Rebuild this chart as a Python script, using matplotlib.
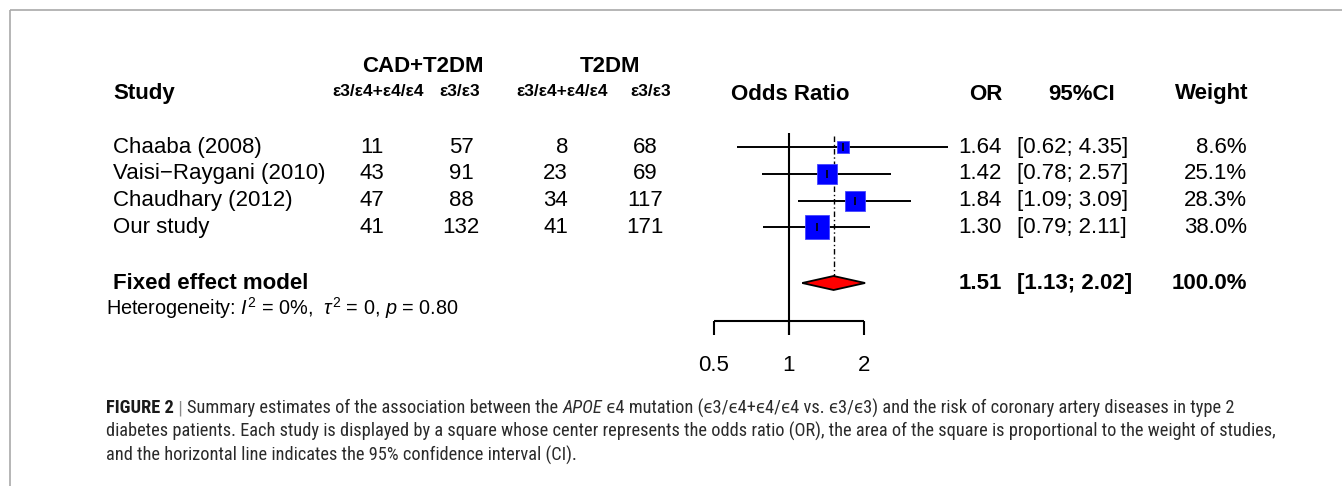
import matplotlib
matplotlib.use("Agg")
import matplotlib.pyplot as plt
from matplotlib import font_manager
import numpy as np

# ---------------- data ----------------
studies = ["Chaaba (2008)", "Vaisi\u2212Raygani (2010)", "Chaudhary (2012)", "Our study"]
cad_e4 = [11, 43, 47, 41]
cad_e3 = [57, 91, 88, 132]
t2dm_e4 = [8, 23, 34, 41]
t2dm_e3 = [68, 69, 117, 171]
odds = [1.64, 1.42, 1.84, 1.30]
ci_low = [0.62, 0.78, 1.09, 0.79]
ci_high = [4.35, 2.57, 3.09, 2.11]
weights = [8.6, 25.1, 28.3, 38.0]
fixed_or = 1.51
fixed_low = 1.13
fixed_high = 2.02
fixed_weight = 100.0
het_i2 = 0
het_tau2 = 0
het_p = 0.80
axis_ticks = [0.5, 1, 2]

caption_lines = [
    [("FIGURE 2", "bold"), (" | ", "sep"),
     ("Summary estimates of the association between the ", "normal"),
     ("APOE", "italic"),
     (" \u03f54 mutation (\u03f53/\u03f54+\u03f54/\u03f54 vs. \u03f53/\u03f53) and the risk of coronary artery diseases in type 2", "normal")],
    [("diabetes patients. Each study is displayed by a square whose center represents the odds ratio (OR), the area of the square is proportional to the weight of studies,", "normal")],
    [("and the horizontal line indicates the 95% confidence interval (CI).", "normal")],
]

# ---------------- style ----------------
plt.rcParams["font.family"] = ["Liberation Sans", "DejaVu Sans"]
plt.rcParams["mathtext.fontset"] = "custom"
plt.rcParams["mathtext.rm"] = "Liberation Sans"
plt.rcParams["mathtext.it"] = "Liberation Sans:italic"
plt.rcParams["mathtext.bf"] = "Liberation Sans:bold"

W, H = 1342, 486
FS = 16
SUB_FS = 12.5

fig = plt.figure(figsize=(W / 100, H / 100), dpi=100)
fig.patch.set_facecolor("white")
bg = fig.add_axes([0, 0, 1, 1])
bg.set_xlim(0, W)
bg.set_ylim(H, 0)
bg.axis("off")

# frame lines
bg.plot([9.5, W], [10.5, 10.5], color="#a9a9a9", lw=1.2, solid_capstyle="butt")
bg.plot([9.5, 9.5], [10.5, H], color="#a9a9a9", lw=1.2, solid_capstyle="butt")

# ---------------- layout ----------------
ROW0, ROWSTEP = 147.0, 26.8
row_y = [ROW0 + ROWSTEP * i for i in range(len(studies))]
FIX_Y = 283
HDR_Y = 94
GRP_Y = 67
SUB_Y = 92

X_STUDY = 113
COL1_R, COL2_C, COL3_R, COL4_C = 384, 461, 568, 645
SUB_C = [378, 460, 562, 651]
X_OR_R, X_CI_L, X_W_R = 1002, 1017, 1247

# headers
bg.text(X_STUDY, HDR_Y, "Study", fontsize=FS, fontweight="bold", ha="left", va="center")
bg.text(423, GRP_Y, "CAD+T2DM", fontsize=FS, fontweight="bold", ha="center", va="center")
bg.text(610, GRP_Y, "T2DM", fontsize=FS, fontweight="bold", ha="center", va="center")
sub_labels = ["\u03b53/\u03b54+\u03b54/\u03b54", "\u03b53/\u03b53", "\u03b53/\u03b54+\u03b54/\u03b54", "\u03b53/\u03b53"]
for xc, lab in zip(SUB_C, sub_labels):
    bg.text(xc, SUB_Y, lab, fontsize=SUB_FS, fontweight="bold", ha="center", va="center")
bg.text(790, HDR_Y, "Odds Ratio", fontsize=FS, fontweight="bold", ha="center", va="center")
bg.text(X_OR_R, HDR_Y, "OR", fontsize=FS, fontweight="bold", ha="right", va="center")
bg.text(1082, HDR_Y, "95%CI", fontsize=FS, fontweight="bold", ha="center", va="center")
bg.text(1248, HDR_Y, "Weight", fontsize=FS, fontweight="bold", ha="right", va="center")

# study rows
for i, y in enumerate(row_y):
    bg.text(X_STUDY, y, studies[i], fontsize=FS, ha="left", va="center")
    bg.text(COL1_R, y, str(cad_e4[i]), fontsize=FS, ha="right", va="center")
    bg.text(COL2_C, y, str(cad_e3[i]), fontsize=FS, ha="center", va="center")
    bg.text(COL3_R, y, str(t2dm_e4[i]), fontsize=FS, ha="right", va="center")
    bg.text(COL4_C, y, str(t2dm_e3[i]), fontsize=FS, ha="center", va="center")
    bg.text(X_OR_R, y, f"{odds[i]:.2f}", fontsize=FS, ha="right", va="center")
    bg.text(X_CI_L, y, f"[{ci_low[i]:.2f}; {ci_high[i]:.2f}]", fontsize=FS, ha="left", va="center")
    bg.text(X_W_R, y, f"{weights[i]:.1f}%", fontsize=FS, ha="right", va="center")

# fixed effect row
bg.text(X_STUDY, FIX_Y, "Fixed effect model", fontsize=FS, fontweight="bold", ha="left", va="center")
bg.text(X_OR_R, FIX_Y, f"{fixed_or:.2f}", fontsize=FS, fontweight="bold", ha="right", va="center")
bg.text(X_CI_L, FIX_Y, f"[{fixed_low:.2f}; {fixed_high:.2f}]", fontsize=FS, fontweight="bold", ha="left", va="center")
bg.text(X_W_R, FIX_Y, f"{fixed_weight:.1f}%", fontsize=FS, fontweight="bold", ha="right", va="center")
bg.text(106, 315, f"Heterogeneity: $I^2$ = {het_i2}%,  $\\tau^2$ = {het_tau2}, $p$ = {het_p:.2f}",
        fontsize=14.3, ha="left", va="baseline")

# ---------------- forest panel ----------------
FX0, FX1 = 690, 975
X1PX, PX_PER_LOG2 = 789.0, 75.0
fa = fig.add_axes([FX0 / W, 0, (FX1 - FX0) / W, 1])
fa.set_xscale("log", base=2)
fa.set_xlim(2 ** ((FX0 - X1PX) / PX_PER_LOG2), 2 ** ((FX1 - X1PX) / PX_PER_LOG2))
fa.set_ylim(H, 0)
fa.axis("off")

AX_Y, TICK_BOT, TOP_Y = 321, 335, 133
fa.vlines(1, TOP_Y, TICK_BOT, color="black", lw=1.5, clip_on=False)
fa.hlines(AX_Y, min(axis_ticks), max(axis_ticks), color="black", lw=1.5, clip_on=False)
fa.vlines(axis_ticks, AX_Y, TICK_BOT, color="black", lw=1.5, clip_on=False)
for t in axis_ticks:
    fa.text(t, 365, f"{t:g}", fontsize=FS, ha="center", va="center", clip_on=False)

fa.vlines(fixed_or, TOP_Y + 3, FIX_Y - 7, color="black", lw=1.0,
          linestyles=[(0, (4, 2, 1, 2))], clip_on=False)

for i, y in enumerate(row_y):
    fa.hlines(y, ci_low[i], ci_high[i], color="black", lw=1.4, clip_on=False, zorder=2)
    side_pt = 3.83 * np.sqrt(weights[i]) * 0.72
    fa.plot([odds[i]], [y], marker="s", ms=side_pt, mfc="#0000ff", mec="#4646ff",
            mew=0.6, ls="none", clip_on=False, zorder=3)
    fa.plot([odds[i]], [y], marker="|", ms=5.5, mec="black", mew=1.2, ls="none",
            clip_on=False, zorder=4)

fa.fill([fixed_low, fixed_or, fixed_high, fixed_or], [FIX_Y, FIX_Y - 7, FIX_Y, FIX_Y + 7],
        facecolor="#ff0000", edgecolor="black", lw=1.3, clip_on=False, zorder=3)

# ---------------- caption ----------------
def pick_condensed():
    names = {f.name for f in font_manager.fontManager.ttflist}
    for n in ["Liberation Sans Narrow", "Roboto Condensed", "Open Sans Condensed", "Arial Narrow"]:
        if n in names:
            return n, "normal"
    for f in font_manager.fontManager.ttflist:
        if f.name in ("DejaVu Sans", "Roboto", "Noto Sans", "Open Sans") and str(f.stretch) in (
                "condensed", "semi-condensed", "extra-condensed", "ultra-condensed"):
            return f.name, str(f.stretch)
    return "Liberation Sans", "normal"

cap_family, cap_stretch = pick_condensed()
renderer = fig.canvas.get_renderer()


def style_kw(kind, size):
    kw = dict(fontsize=size, family=[cap_family, "Noto Sans", "DejaVu Sans"], fontstretch=cap_stretch,
              color="#2b2b2b")
    if kind == "bold":
        kw["fontweight"] = "bold"
        kw["color"] = "#1a1a1a"
    elif kind == "italic":
        kw["fontstyle"] = "italic"
    elif kind == "sep":
        kw["color"] = "#8a8a8a"
    return kw


def text_w(s, kw):
    t1 = bg.text(0, 0, "|" + s + "|", **kw)
    t2 = bg.text(0, 0, "||", **kw)
    w = t1.get_window_extent(renderer).width - t2.get_window_extent(renderer).width
    t1.remove()
    t2.remove()
    return w


CAP_X = 106
targets = [1120 - CAP_X, 1328 - CAP_X, 688 - CAP_X]
base = 10.0
widths = [sum(text_w(s, style_kw(k, base)) for s, k in caption_lines[j]) for j in range(3)]
scale = sum(w * t for w, t in zip(widths, targets)) / sum(w * w for w in widths)
cap_size = base * scale

cap_y = [408, 431.5, 455]
for line, y in zip(caption_lines, cap_y):
    x = CAP_X
    for s, k in line:
        kw = style_kw(k, cap_size)
        bg.text(x, y, s, ha="left", va="center", **kw)
        x += text_w(s, kw)

fig.savefig("out.png", dpi=100, facecolor="white")
